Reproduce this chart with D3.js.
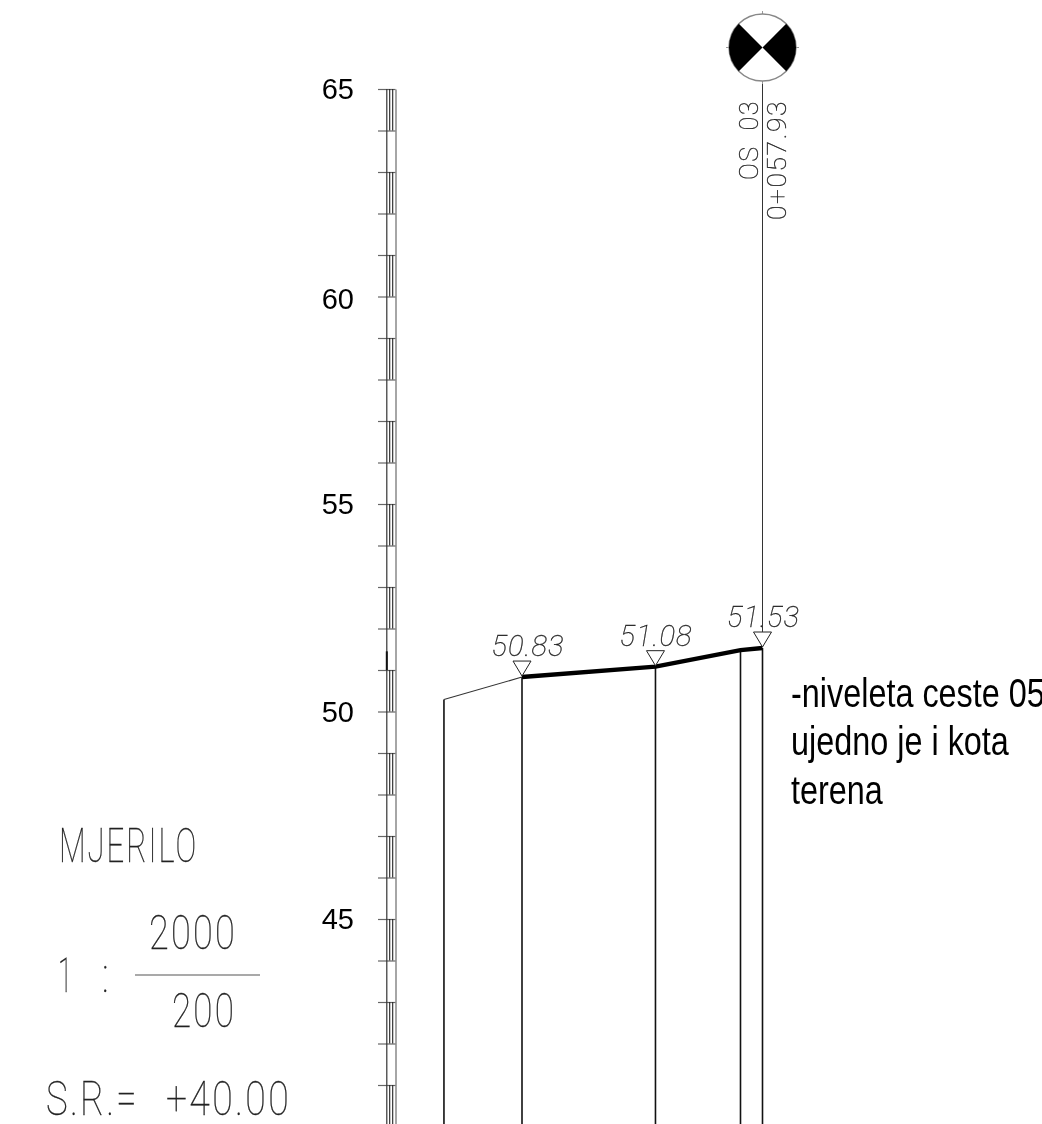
<!DOCTYPE html>
<html>
<head>
<meta charset="utf-8">
<script src="https://cdn.jsdelivr.net/npm/d3@7"></script>
<style>
  html, body { margin: 0; padding: 0; background: #fff; overflow: hidden; }
  svg { filter: grayscale(1); }
  .cad { font-family: Roboto, sans-serif; font-weight: 100; fill: #222; stroke: #222; stroke-width: 0.3px; white-space: pre; }
  .plain { font-family: "Liberation Sans", Arial, sans-serif; fill: #000; }
</style>
</head>
<body>
<script>
const width = 1042;
const height = 1124;

// Long section, values.
const stations = [-18.8, 0, 32.15, 52.63, 57.93];      // chainage, m
const levels = [50.29, 50.83, 51.08, 51.48, 51.53];    // elevation, m
const markedStations = [0, 32.15, 57.93];
const markedLevels = ["50.83", "51.08", "51.53"];
const datum = 40;
const axisTop = 65;
const axisLabels = [65, 60, 55, 50, 45];
const noteLines = ["-niveleta ceste 05", "ujedno je i kota", "terena"];
const stationName = "OS  03";
const stationChainage = "0+057.93";
const scaleTitle = "MJERILO";
const scaleH = "2000";
const scaleV = "200";

// 1:200 vertical, 1:2000 horizontal.
const y = d3.scaleLinear().domain([datum, axisTop]).range([1126.5, 89]);
const x = d3.scaleLinear().domain([0, 57.93]).range([522, 762.5]);

const svg = d3.select("body").append("svg")
  .attr("width", width)
  .attr("height", height)
  .style("display", "block");

// Ruler: one tick per metre, double inner line on every other metre.
const ruler = svg.append("g").attr("transform", "translate(395.5,0)");
const rulerAxis = d3.axisLeft(y)
  .tickValues(d3.range(datum, axisTop + 1))
  .tickSizeInner(17.5)
  .tickSizeOuter(0)
  .tickFormat("");
ruler.call(rulerAxis);
ruler.selectAll("line").attr("stroke", "#666").attr("stroke-width", 1.2);
ruler.select(".domain").attr("stroke", "#888").attr("stroke-width", 1.5);

svg.append("line")
  .attr("x1", 386.8).attr("x2", 386.8)
  .attr("y1", y(axisTop)).attr("y2", y(datum))
  .attr("stroke", "#333").attr("stroke-width", 1.2);

const filled = d3.range(datum, axisTop, 2);
[389.7, 392.7].forEach(px => {
  svg.append("g").selectAll("line").data(filled).enter().append("line")
    .attr("x1", px).attr("x2", px)
    .attr("y1", d => y(d + 1)).attr("y2", d => y(d))
    .attr("stroke", "#222").attr("stroke-width", 1.1);
});

// short heavy stub on the ruler
svg.append("line")
  .attr("x1", 386.8).attr("x2", 386.8)
  .attr("y1", y(51.45)).attr("y2", y(51))
  .attr("stroke", "#111").attr("stroke-width", 2);

svg.append("g").selectAll("text").data(axisLabels).enter().append("text")
  .attr("class", "plain")
  .attr("x", 354)
  .attr("y", d => y(d) + (d === 60 ? 12 : 10))
  .attr("text-anchor", "end")
  .style("font-size", "29px")
  .text(d => d);

// Verticals from ground line down to the datum.
svg.append("g").selectAll("line").data(stations).enter().append("line")
  .attr("x1", d => x(d)).attr("x2", d => x(d))
  .attr("y1", (d, i) => y(levels[i])).attr("y2", y(datum))
  .attr("stroke", "#111").attr("stroke-width", 1.6);

// Ground line: thin first leg, then the heavy road level.
const line = d3.line().x(d => x(d[0])).y(d => y(d[1]));
const pts = d3.zip(stations, levels);
svg.append("path").attr("d", line(pts.slice(0, 2)))
  .attr("fill", "none").attr("stroke", "#333").attr("stroke-width", 1.1);
svg.append("path").attr("d", line(pts.slice(1)))
  .attr("fill", "none").attr("stroke", "#000").attr("stroke-width", 4.4);

// Level markers.
const marks = svg.append("g").selectAll("g").data(markedStations).enter().append("g")
  .attr("transform", (d, i) => `translate(${x(d)},${y(+markedLevels[i])})`);
marks.append("path")
  .attr("d", "M0,-1L-9,-16H9Z")
  .attr("fill", "#fff").attr("stroke", "#222").attr("stroke-width", 1);
marks.append("text")
  .attr("class", "cad")
  .attr("x", (d, i) => [6, 0.5, 1][i])
  .attr("y", -21)
  .attr("text-anchor", "middle")
  .attr("font-style", "italic")
  .attr("textLength", 73)
  .attr("lengthAdjust", "spacingAndGlyphs")
  .style("font-size", "30px")
  .style("letter-spacing", "1px")
  .text((d, i) => markedLevels[i]);

// Station symbol and its leader.
const cx = x(57.93);
const cy = 47.5;
const r = 33.5;
svg.append("line")
  .attr("x1", cx).attr("x2", cx)
  .attr("y1", cy + r).attr("y2", y(51.53) - 16)
  .attr("stroke", "#333").attr("stroke-width", 1);
const symbol = svg.append("g").attr("transform", `translate(${cx},${cy})`);
symbol.selectAll("line").data(d3.range(4)).enter().append("line")
  .attr("transform", d => `rotate(${d * 90})`)
  .attr("x1", r).attr("x2", r + 3)
  .attr("stroke", "#999").attr("stroke-width", 1);
symbol.append("circle").attr("r", r).attr("fill", "#fff").attr("stroke", "#888").attr("stroke-width", 1.4);
const arc = d3.arc().innerRadius(0).outerRadius(r);
[[Math.PI / 4, 3 * Math.PI / 4], [-3 * Math.PI / 4, -Math.PI / 4]].forEach(a => {
  symbol.append("path").attr("d", arc({ startAngle: a[0], endAngle: a[1] })).attr("fill", "#000");
});

function rotated(str, px, py, len) {
  svg.append("text")
    .attr("class", "cad")
    .attr("transform", `translate(${px},${py}) rotate(-90)`)
    .attr("textLength", len)
    .attr("lengthAdjust", "spacingAndGlyphs")
    .style("font-size", "25.5px")
    .style("letter-spacing", "1.5px")
    .text(str);
}
rotated(stationName, 758, 180, 80);
rotated(stationChainage, 786, 220, 120);

// Note on the right; the source text is tall and narrow.
svg.append("g").selectAll("text").data(noteLines).enter().append("text")
  .attr("class", "plain")
  .attr("transform", (d, i) => `translate(791,${707 + i * 48.3}) scale(0.79,1)`)
  .style("font-size", "41px")
  .text(d => d);

// Scale block, bottom left.
function cadText(str, px, py, len, size) {
  svg.append("text")
    .attr("class", "cad")
    .attr("x", px)
    .attr("y", py)
    .attr("textLength", len)
    .attr("lengthAdjust", "spacingAndGlyphs")
    .style("font-size", size + "px")
    .style("letter-spacing", "3px")
    .text(str);
}
cadText(scaleTitle, 59, 862, 139, 48);
cadText(scaleH, 149, 949, 88, 48);
cadText("1", 58, 992, 16, 48);
cadText(":", 102, 992, 9, 48);
cadText(scaleV, 172, 1027, 64, 48);
cadText("S.R.=", 46, 1115, 93, 48);
cadText("+" + d3.format(".2f")(datum), 166, 1115, 125, 48);
svg.append("line")
  .attr("x1", 135).attr("x2", 260)
  .attr("y1", 975).attr("y2", 975)
  .attr("stroke", "#555").attr("stroke-width", 1.2);
</script>
</body>
</html>
